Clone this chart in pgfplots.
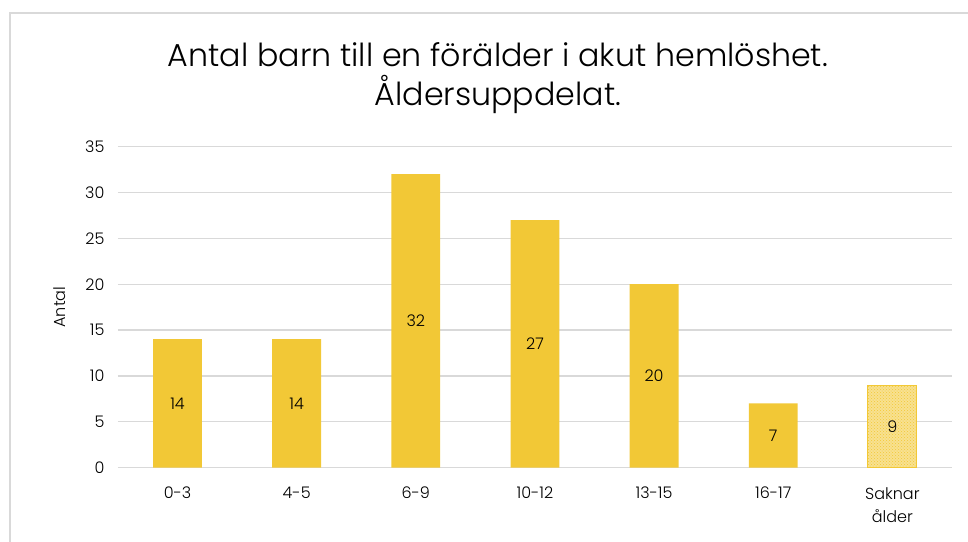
\documentclass[border=0pt]{standalone}
\usepackage{fontspec}
\setmainfont{Poppins}[UprightFont=* Light]
\usepackage{pgfplots}
\pgfplotsset{compat=1.18}
\usetikzlibrary{patterns}
\definecolor{barc}{HTML}{F2C836}
\definecolor{gridc}{HTML}{D9D9D9}
\definecolor{borderc}{HTML}{D9D9D9}
\begin{document}
\begin{tikzpicture}[x=1pt,y=1pt]
\useasboundingbox (0,0) rectangle (968,541);
\fill[white] (0,0) rectangle (968,541);
\draw[borderc, line width=1.2pt] (10,-10) rectangle (990,528);
\node[align=center, font=\fontsize{31.7}{39}\selectfont, text=black] at (498,463) {Antal barn till en förälder i akut hemlöshet.\\Åldersuppdelat.};
\begin{axis}[
  at={(99,80)}, anchor=south west,
  scale only axis, width=834, height=321,
  xmin=-0.5, xmax=6.5, ymin=0, ymax=35,
  ytick={0,5,...,35},
  xtick={0,...,6},
  xticklabels={0-3,4-5,6-9,10-12,13-15,16-17,{Saknar\\ålder}},
  xticklabel style={align=center, font=\fontsize{16}{23}\selectfont, yshift=-16pt},
  yticklabel style={font=\fontsize{16}{18}\selectfont, xshift=-10pt},
  /pgf/number format/assume math mode=true,
  major tick length=0pt,
  axis line style={draw=none},
  ymajorgrids, grid style={gridc, line width=1.2pt},
  ylabel={Antal}, ylabel style={font=\fontsize{16}{18}\selectfont, at={(axis description cs:-0.07,0.5)}, anchor=center},
  ybar, bar shift=0pt, bar width=0.41,
  visualization depends on=y \as \rawy,
  nodes near coords,
  every node near coord/.append style={font=\fontsize{16}{18}\selectfont, text=black, anchor=center, shift={(axis direction cs:0,-\rawy/2)}},
  clip=false,
]
\addplot[fill=barc, draw=none] coordinates {(0,14) (1,14) (2,32) (3,27) (4,20) (5,7)};
\addplot[fill=barc!55, draw=barc, line width=1pt, postaction={pattern=crosshatch dots, pattern color=barc}] coordinates {(6,9)};
\end{axis}
\end{tikzpicture}
\end{document}
